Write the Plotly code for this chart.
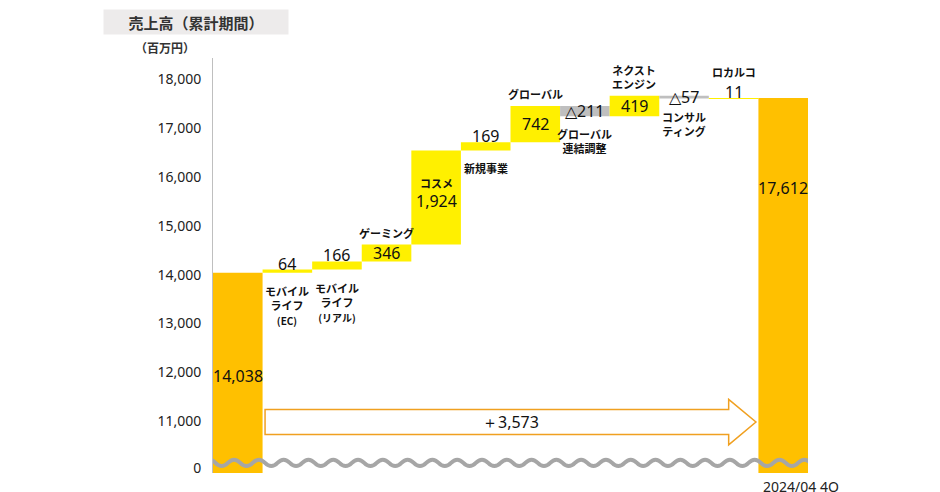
import plotly.graph_objects as go

categories = ["2023/04 4Q", "モバイルライフ(EC)", "モバイルライフ(リアル)", "ゲーミング", "コスメ", "新規事業",
              "グローバル", "グローバル連結調整", "ネクストエンジン", "コンサルティング", "ロカルコ", "2024/04 4Q"]
values = [14038, 64, 166, 346, 1924, 169, 742, -211, 419, -57, 11, 17612]
measures = ["absolute"] + ["relative"] * 10 + ["absolute"]
value_labels = ["14,038", "64", "166", "346", "1,924", "169", "742", "△211", "419", "△57", "11", "17,612"]
name_labels = ["", "モバイル<br>ライフ<br><span style='font-size:10px'>(EC)</span>",
               "モバイル<br>ライフ<br><span style='font-size:10px'>(リアル)</span>",
               "ゲーミング", "コスメ", "新規事業", "グローバル", "グローバル<br>連結調整",
               "ネクスト<br>エンジン", "コンサル<br>ティング", "ロカルコ", ""]
num_pos = ["mid", "top", "top", "mid", "mid", "top", "mid", "mid", "mid", "mid", "top", "mid"]
name_pos = ["", "below", "below", "above", "abovein", "below", "above", "below", "above", "below", "abovetop", ""]
total_change = 3573
yticks = [10040, 11000, 12000, 13000, 14000, 15000, 16000, 17000, 18000]
yticktext = ["0", "11,000", "12,000", "13,000", "14,000", "15,000", "16,000", "17,000", "18,000"]

YELLOW = "#FFF000"
ORANGE = "#FFC000"
GREY = "#BFBFBF"

fig = go.Figure()
fig.add_trace(go.Waterfall(
    x=list(range(len(categories))), y=values, measure=measures,
    base=0, width=1.0,
    increasing=dict(marker=dict(color=YELLOW, line=dict(width=0))),
    decreasing=dict(marker=dict(color=GREY, line=dict(width=0))),
    totals=dict(marker=dict(color=ORANGE, line=dict(width=0))),
    connector=dict(visible=False), hoverinfo="skip", textinfo="none"))

ann = []
cum = 0
font = dict(family="Noto Sans", color="#111")
nf = dict(size=11, family="Noto Sans CJK JP", color="#111")
for i, (v, m) in enumerate(zip(values, measures)):
    if m == "absolute":
        lo, hi = 10040, v
        cum = v
    else:
        a, b = cum, cum + v
        lo, hi = min(a, b), max(a, b)
        cum = b
    mid = (lo + hi) / 2
    if i == 0:
        ann.append(dict(x=i, y=11930, text=value_labels[i], showarrow=False, font=dict(size=16, **font)))
    elif i == len(values) - 1:
        ann.append(dict(x=i, y=15780, text=value_labels[i], showarrow=False, font=dict(size=16, **font)))
    elif num_pos[i] == "top":
        ann.append(dict(x=i, y=hi, yshift=6, text=value_labels[i], showarrow=False, font=dict(size=16, **font)))
    else:
        yy = mid if name_pos[i] != "abovein" else mid - 80
        ann.append(dict(x=i, y=yy, text=value_labels[i], showarrow=False, font=dict(size=16, **font)))
    nl = name_labels[i]
    if not nl:
        continue
    if name_pos[i] == "below":
        ann.append(dict(x=i, y=lo, yshift=-8, yanchor="top", text="<b>" + nl + "</b>", showarrow=False, font=nf))
    elif name_pos[i] == "above":
        ann.append(dict(x=i, y=hi, yshift=2, yanchor="bottom", text="<b>" + nl + "</b>", showarrow=False, font=nf))
    elif name_pos[i] == "abovetop":
        ann.append(dict(x=i, y=hi, yshift=16, yanchor="bottom", text="<b>" + nl + "</b>", showarrow=False, font=nf))
    elif name_pos[i] == "abovein":
        ann.append(dict(x=i, y=mid + 290, text="<b>" + nl + "</b>", showarrow=False, font=nf))

ann.append(dict(x=-0.55, y=0, xref="x", yref="paper", yshift=-2, xanchor="left", yanchor="top",
                text=categories[0], showarrow=False, font=dict(size=14, family="Noto Sans", color="#222")))
ann.append(dict(x=10.55, y=0, xref="x", yref="paper", yshift=-2, xanchor="left", yanchor="top",
                text=categories[-1], showarrow=False, font=dict(size=14, family="Noto Sans", color="#222")))
fig.update_layout(annotations=ann)

fig.add_annotation(x=-0.185, y=1.055, xref="paper", yref="paper", xanchor="left", yanchor="bottom",
                   text="<b>売上高（累計期間）</b>", showarrow=False, bgcolor="#EDEBEB", width=182, height=22,
                   font=dict(size=15, family="Noto Sans CJK JP", color="#333"))
fig.add_annotation(x=-0.134, y=1.0, xref="paper", yref="paper", xanchor="left", yanchor="bottom",
                   text="<b>（百万円）</b>", showarrow=False,
                   font=dict(size=12, family="Noto Sans CJK JP", color="#333"))

x0, x1, xh = 0.55, 9.9, 10.45
ylo, yhi, ya_lo, ya_hi = 10730, 11240, 10520, 11450
path = (f"M {x0},{ylo} L {x1},{ylo} L {x1},{ya_lo} L {xh},{(ylo+yhi)/2} L {x1},{ya_hi} "
        f"L {x1},{yhi} L {x0},{yhi} Z")
fig.add_shape(type="path", path=path, xref="x", yref="y", line=dict(color="#F0A020", width=1.5),
              fillcolor="white")
fig.add_annotation(x=5.5, y=(ylo + yhi) / 2, text=f"＋{total_change:,}", showarrow=False,
                   font=dict(size=16, family="Noto Sans", color="#111"))

segs = []
xs = [-0.7 + k * 0.25 for k in range(0, 51)]
for k, xv in enumerate(xs[1:], 1):
    segs.append(f"Q {xv - 0.125},{10150 + (130 if k % 2 else -130)} {xv},10150")
fig.add_shape(type="path", path="M -0.7,10150 " + " ".join(segs), xref="x", yref="y",
              line=dict(color="#A6A6A6", width=4), layer="above")

fig.update_layout(
    width=940, height=492, paper_bgcolor="white", plot_bgcolor="white",
    margin=dict(l=205, r=140, t=50, b=27, autoexpand=False), showlegend=False,
    xaxis=dict(range=[-0.5, 11.5], showticklabels=False, showgrid=False, zeroline=False,
               showline=False, fixedrange=True, automargin=False),
    yaxis=dict(range=[9943, 18429], tickvals=yticks, ticktext=yticktext, showgrid=False,
               zeroline=False, showline=True, linecolor="#BFBFBF", linewidth=1, ticks="",
               automargin=False, ticklabelstandoff=8,
               tickfont=dict(size=14, family="Noto Sans", color="#222")),
)
fig.write_html("out.html")
